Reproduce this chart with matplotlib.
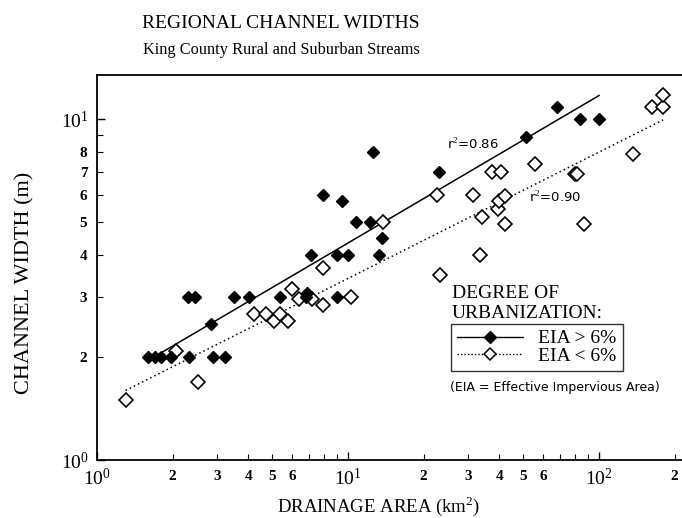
import numpy as np
import matplotlib
matplotlib.use("Agg")
import matplotlib.pyplot as plt
from matplotlib.ticker import FixedLocator, FixedFormatter
from matplotlib.lines import Line2D

plt.rcParams['font.family'] = ['Liberation Serif', 'DejaVu Serif']
plt.rcParams['mathtext.fontset'] = 'custom'
plt.rcParams['mathtext.rm'] = 'Liberation Serif'

# EIA > 6% (filled diamonds)
urban_area = [1.60, 1.70, 1.80, 1.97, 2.33, 2.31, 2.45, 2.85, 2.91, 3.24, 3.52, 4.04,
              5.36, 6.85, 6.8, 7.12, 9.0, 9.07, 10.0, 13.3, 13.6, 10.8, 12.2, 7.93,
              9.44, 12.6, 23.1, 51.2, 67.8, 84.0, 100.3]
urban_width = [2.0, 2.0, 2.0, 2.0, 2.0, 3.0, 3.0, 2.5, 2.0, 2.0, 3.0, 3.0,
               3.0, 3.1, 3.0, 4.0, 4.0, 3.0, 4.0, 4.0, 4.5, 5.0, 5.0, 6.0,
               5.75, 8.0, 7.0, 8.9, 10.9, 10.0, 10.0]

# EIA < 6% (open diamonds)
rural_area = [1.30, 2.06, 2.52, 4.22, 4.71, 5.09, 5.36, 5.75, 6.0, 6.4, 7.2, 7.93,
              7.97, 10.3, 13.8, 22.7, 23.3, 31.6, 33.4, 34.1, 37.3, 40.7, 39.5, 40.1,
              42.2, 42.2, 55.6, 80.2, 81.5, 87.1, 136, 162, 180, 180]
rural_width = [1.5, 2.09, 1.69, 2.68, 2.68, 2.56, 2.68, 2.56, 3.17, 2.96, 2.96, 3.65,
               2.86, 3.0, 5.0, 6.0, 3.5, 6.0, 4.0, 5.17, 7.0, 7.0, 5.47, 5.77,
               5.94, 4.94, 7.41, 6.9, 6.9, 4.94, 7.93, 10.9, 10.9, 11.8]

# power-law fits  width = a * area^b
urban_fit = (1.60, 0.433)
urban_range = (1.78, 100)
rural_fit = (1.452, 0.371)
rural_range = (1.30, 180)

fig = plt.figure(figsize=(6.82, 5.18), dpi=100)
ax = fig.add_axes([97/682, 58/518, 1 - 97/682, 385/518])
ax.set_xscale('log')
ax.set_yscale('log')
ax.set_xlim(1, 214)
ax.set_ylim(1, 13.5)

xs = np.geomspace(*urban_range, 50)
ax.plot(xs, urban_fit[0] * xs ** urban_fit[1], color='black', lw=1.1)
xs = np.geomspace(*rural_range, 50)
ax.plot(xs, rural_fit[0] * xs ** rural_fit[1], color='black', lw=1.1, ls=(0, (1, 2)))

ax.plot(rural_area, rural_width, 'D', ms=7, mfc='white', mec='black', mew=1.2, ls='none')
ax.plot(urban_area, urban_width, 'D', ms=6.5, mfc='black', mec='black', ls='none')

ax.text(24.8, 8.4, 'r$^2$=0.86', family='DejaVu Sans', fontsize=9.5, va='center')
ax.text(52.6, 5.87, 'r$^2$=0.90', family='DejaVu Sans', fontsize=9.5, va='center')

# ticks
ax.xaxis.set_major_locator(FixedLocator([1, 10, 100]))
ax.xaxis.set_major_formatter(FixedFormatter([r'$\mathregular{10^0}$', r'$\mathregular{10^1}$', r'$\mathregular{10^2}$']))
xminor = [2, 3, 4, 5, 6, 7, 8, 9, 20, 30, 40, 50, 60, 70, 80, 90, 200]
xminor_lab = ['2', '3', '4', '5', '6', '', '', '', '2', '3', '4', '5', '6', '', '', '', '2']
ax.xaxis.set_minor_locator(FixedLocator(xminor))
ax.xaxis.set_minor_formatter(FixedFormatter(xminor_lab))

ax.yaxis.set_major_locator(FixedLocator([1, 10]))
ax.yaxis.set_major_formatter(FixedFormatter([r'$\mathregular{10^0}$', r'$\mathregular{10^1}$']))
yminor = [2, 3, 4, 5, 6, 7, 8, 9]
yminor_lab = ['2', '3', '4', '5', '6', '7', '8', '']
ax.yaxis.set_minor_locator(FixedLocator(yminor))
ax.yaxis.set_minor_formatter(FixedFormatter(yminor_lab))

ax.tick_params(which='both', direction='in', top=False, right=False)
ax.tick_params(which='major', length=6, width=1, labelsize=14, pad=6)
ax.tick_params(which='minor', length=4, width=0.8, labelsize=11, pad=7)
for lab in ax.get_xticklabels(minor=True) + ax.get_yticklabels(minor=True):
    lab.set_fontweight('bold')

ax.spines['right'].set_visible(False)
for s in ['left', 'bottom', 'top']:
    ax.spines[s].set_linewidth(1.3)

ax.set_xlabel('DRAINAGE AREA (km$^2$)', fontsize=13.5)
ax.xaxis.set_label_coords((379 - 97) / 585, (460 - 494) / 385)
ax.set_ylabel('CHANNEL WIDTH (m)', fontsize=16)
ax.yaxis.set_label_coords((34 - 97) / 585, (460 - 283) / 385)

fig.text(281/682, 1 - 23/518, 'REGIONAL CHANNEL WIDTHS', ha='center', va='center', fontsize=14)
fig.text(281/682, 1 - 50/518, 'King County Rural and Suburban Streams', ha='center', va='center', fontsize=11.8)

# legend
fig.text(452/682, 1 - 293/518, 'DEGREE OF', ha='left', va='center', fontsize=14)
fig.text(452/682, 1 - 313/518, 'URBANIZATION:', ha='left', va='center', fontsize=14)
handles = [Line2D([], [], color='black', lw=1, marker='D', ms=6, mfc='black'),
           Line2D([], [], color='black', lw=1, ls=(0, (1, 1.5)), marker='D', ms=6.5, mfc='white', mew=1.1)]
leg = ax.legend(handles, ['EIA > 6%', 'EIA < 6%'], loc='upper left',
                bbox_to_anchor=((451 - 97) / 585, 1 - (324 - 75) / 385),
                borderaxespad=0, fontsize=14, frameon=True, fancybox=False, edgecolor='black',
                handlelength=3.4, handletextpad=0.8, borderpad=0.3, labelspacing=0.0)
leg.get_frame().set_linewidth(1)
fig.text(450/682, 1 - 388/518, '(EIA = Effective Impervious Area)', ha='left', va='center',
         family='DejaVu Sans', fontsize=9)

fig.savefig('out.png', dpi=100)
